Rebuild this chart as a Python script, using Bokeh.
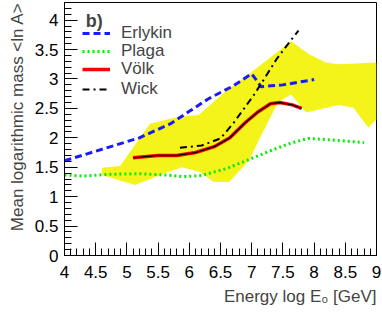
import numpy as np
from bokeh.plotting import figure
from bokeh.models import (Range1d, FixedTicker, CustomJSTickFormatter, Legend,
                          LegendItem, Label, Title)
from bokeh.embed import file_html
from bokeh.resources import INLINE

FONT = "Liberation Sans"

# ---- data -------------------------------------------------------------
x_ticks = [4.0, 4.5, 5.0, 5.5, 6.0, 6.5, 7.0, 7.5, 8.0, 8.5, 9.0]
y_ticks = [0.0, 0.5, 1.0, 1.5, 2.0, 2.5, 3.0, 3.5, 4.0]

band_upper_e = [4.60, 4.89, 5.37, 5.83, 6.15, 6.56, 6.99, 7.63, 7.92, 8.19, 8.39, 9.00]
band_upper_v = [1.49, 1.52, 2.24, 2.36, 2.39, 2.77, 3.11, 3.64, 3.42, 3.28, 3.25, 3.28]
band_lower_e = [4.60, 5.13, 5.61, 5.88, 6.17, 6.39, 6.64, 6.96, 7.12, 7.42, 7.63,
                7.87, 8.39, 8.63, 8.87, 9.00]
band_lower_v = [1.37, 1.20, 1.40, 1.50, 1.42, 1.25, 1.25, 1.62, 1.97, 2.60, 2.74,
                2.43, 2.56, 2.51, 2.17, 2.31]

erlykin_e = [4.0, 5.2, 5.7, 6.0, 6.3, 6.7, 7.0, 7.15, 7.5, 8.0]
erlykin_v = [1.61, 2.00, 2.24, 2.45, 2.66, 2.88, 3.09, 2.87, 2.90, 2.99]

plaga_e = [4.0, 4.3, 4.7, 5.2, 5.6, 5.9, 6.2, 6.6, 7.0, 7.3, 7.6, 7.9, 8.2, 8.8]
plaga_v = [1.37, 1.35, 1.38, 1.39, 1.37, 1.34, 1.36, 1.48, 1.65, 1.78, 1.90, 1.99, 1.97, 1.92]

voelk_e = [5.1, 5.5, 5.8, 6.1, 6.4, 6.65, 6.9, 7.1, 7.3, 7.45, 7.65, 7.8]
voelk_v = [1.66, 1.70, 1.70, 1.75, 1.85, 2.00, 2.26, 2.44, 2.58, 2.60, 2.56, 2.50]

wick_e = [5.85, 6.2, 6.5, 6.7, 7.03, 7.2, 7.4, 7.6, 7.75]
wick_v = [1.83, 1.87, 1.99, 2.24, 2.72, 3.00, 3.34, 3.62, 3.82]

legend_labels = ["Erlykin", "Plaga", "V\u00f6lk", "Wick"]

# ---- figure -----------------------------------------------------------
p = figure(width=382, height=312, output_backend="svg", toolbar_location=None,
           x_range=Range1d(4, 9), y_range=Range1d(0, 4.3),
           min_border_left=62, min_border_right=6, min_border_top=2,
           min_border_bottom=57)
p.background_fill_color = "white"
p.border_fill_color = "white"
p.outline_line_color = "black"
p.outline_line_width = 1
p.xgrid.visible = False
p.ygrid.visible = False

band_x = band_upper_e + band_lower_e[::-1]
band_y = band_upper_v + band_lower_v[::-1]
p.patch(band_x, band_y, fill_color="#f4f41a", line_color=None)

r_erl = p.line(erlykin_e, erlykin_v, line_color="#1a1aff", line_width=3,
               line_dash="7 4")
r_pla = p.line(plaga_e, plaga_v, line_color="#00ee00", line_width=3,
               line_dash="2 3")
r_vol = p.line(voelk_e, voelk_v, line_color="#ff0000", line_width=3.5)
p.line(voelk_e, voelk_v, line_color="black", line_width=1.3)
r_wick = p.line(wick_e, wick_v, line_color="black", line_width=2,
                line_dash="7 4 2 4")

fmt = CustomJSTickFormatter(code="return String(Math.round(tick*10)/10)")
minor_x = [round(4 + 0.1 * i, 2) for i in range(51)]
minor_y = [round(0.1 * i, 2) for i in range(44)]

for ax, ticks, minor in ((p.xaxis[0], x_ticks, minor_x), (p.yaxis[0], y_ticks, minor_y)):
    ax.ticker = FixedTicker(ticks=ticks, minor_ticks=minor)
    ax.formatter = fmt
    ax.major_tick_in = 13
    ax.major_tick_out = 0
    ax.minor_tick_in = 7
    ax.minor_tick_out = 0
    ax.axis_line_color = "black"
    ax.major_tick_line_color = "black"
    ax.minor_tick_line_color = "black"
    ax.major_label_text_font = FONT
    ax.major_label_text_font_size = "17px"
    ax.major_label_text_color = "black"

p.xaxis.major_label_standoff = 10
p.yaxis.major_label_standoff = 6

p.add_layout(Title(text="Energy log E\u2080 [GeV]", align="right",
                   text_font=FONT, text_font_size="17px",
                   text_font_style="normal", standoff=9), "below")
p.add_layout(Title(text="Mean logarithmic mass <ln A>", align="right",
                   text_font=FONT, text_font_size="17px",
                   text_font_style="normal", standoff=10), "left")

p.add_layout(Label(x=4.34, y=3.98, text="b)", text_font=FONT,
                   text_font_size="18px", text_font_style="bold",
                   text_baseline="alphabetic", text_align="left"))

# one legend box per entry so that each row sits where the reference has it
legend_offsets = [212, 194, 176, 156]  # px above the frame bottom
for lab, rend, off in zip(legend_labels, [r_erl, r_pla, r_vol, r_wick], legend_offsets):
    lg = Legend(items=[LegendItem(label=lab, renderers=[rend])],
                location=(18, off), padding=0, margin=0, spacing=0,
                glyph_width=28, glyph_height=18, label_height=18,
                label_standoff=11, label_text_font=FONT,
                label_text_font_size="17px", background_fill_alpha=0,
                border_line_color=None)
    p.add_layout(lg)

open("out.html", "w").write(file_html(p, INLINE))
